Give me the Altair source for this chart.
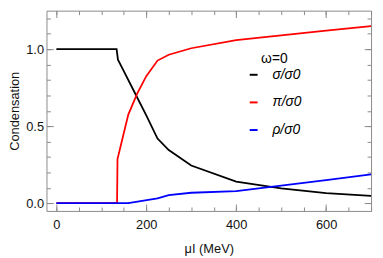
import altair as alt
import pandas as pd

# ---- data ----
series = ["σ/σ0", "π/σ0", "ρ/σ0"]
colors = ["#000000", "#ff0000", "#0000ff"]

sigma_mu = [0, 134, 137, 150, 175, 200, 225, 250, 300, 400, 500, 600, 700]
sigma_val = [1.0, 1.0, 0.932, 0.857, 0.714, 0.57, 0.42, 0.345, 0.245, 0.14, 0.097, 0.066, 0.047]

pi_mu = [0, 135, 136, 160, 180, 200, 225, 250, 300, 400, 500, 600, 700]
pi_val = [0, 0, 0.287, 0.575, 0.713, 0.825, 0.926, 0.964, 1.006, 1.058, 1.09, 1.12, 1.15]

rho_mu = [0, 160, 225, 250, 300, 400, 500, 600, 700]
rho_val = [0, 0, 0.032, 0.053, 0.068, 0.078, 0.114, 0.15, 0.187]

x_major = [0, 200, 400, 600]
x_minor = [0, 50, 100, 150, 200, 250, 300, 350, 400, 450, 500, 550, 600, 650, 700]
y_major = [0.0, 0.5, 1.0]
y_minor = [0.0, 0.1, 0.2, 0.3, 0.4, 0.5, 0.6, 0.7, 0.8, 0.9, 1.0, 1.1, 1.2]

x_domain = [-22, 700]
y_domain = [-0.05, 1.25]

W, H = 329, 203

rows = []
for name, xs, ys in [(series[0], sigma_mu, sigma_val),
                     (series[1], pi_mu, pi_val),
                     (series[2], rho_mu, rho_val)]:
    for i, (a, b) in enumerate(zip(xs, ys)):
        rows.append({"mu": a, "val": b, "series": name, "order": i})
df = pd.DataFrame(rows)

xscale = alt.Scale(domain=x_domain, nice=False, zero=False)
yscale = alt.Scale(domain=y_domain, nice=False, zero=False)

FONT = "Liberation Sans"
TICKC = "#8a8a8a"

lines = alt.Chart(df).mark_line(strokeWidth=1.8).encode(
    x=alt.X("mu:Q", scale=xscale,
            axis=alt.Axis(orient="bottom", values=x_major, ticks=False, tickSize=0,
                          domain=False, grid=False, labelPadding=8, labelFontSize=13,
                          labelFont=FONT, labelColor="#111", title="μI (MeV)",
                          titleFont=FONT, titleFontSize=13, titleFontWeight="normal",
                          titleColor="#111", titlePadding=11)),
    y=alt.Y("val:Q", scale=yscale,
            axis=alt.Axis(orient="left", values=y_major, format=".1f", ticks=False,
                          tickSize=0, domain=False, grid=False, labelPadding=3,
                          labelFontSize=13, labelFont=FONT, labelColor="#111",
                          title="Condensation", titleFont=FONT, titleFontSize=13,
                          titleFontWeight="normal", titleColor="#111", titlePadding=4)),
    color=alt.Color("series:N", scale=alt.Scale(domain=series, range=colors),
                    sort=series,
                    legend=alt.Legend(orient="none", legendX=203, legendY=42,
                                      title="ω=0", titleFont=FONT, titleFontSize=14,
                                      titleFontWeight="normal", titleAnchor="middle",
                                      titlePadding=2,
                                      labelFont=FONT, labelFontSize=14,
                                      labelFontStyle="italic", labelOffset=12,
                                      symbolType="stroke", symbolSize=64,
                                      symbolStrokeWidth=2, rowPadding=14,
                                      padding=0)),
    order="order:Q",
)


def xticks(orient, values, size):
    return alt.Chart(df).mark_point(opacity=0).encode(
        x=alt.X("mu:Q", scale=xscale,
                axis=alt.Axis(orient=orient, values=values, tickSize=size, offset=-H,
                              labels=False, domain=False, grid=False, title=None,
                              tickColor=TICKC, tickWidth=1)),
        y=alt.Y("val:Q", scale=yscale, axis=None),
    )


def yticks(orient, values, size):
    return alt.Chart(df).mark_point(opacity=0).encode(
        y=alt.Y("val:Q", scale=yscale,
                axis=alt.Axis(orient=orient, values=values, tickSize=size, offset=-W,
                              labels=False, domain=False, grid=False, title=None,
                              tickColor=TICKC, tickWidth=1)),
        x=alt.X("mu:Q", scale=xscale, axis=None),
    )


chart = alt.layer(
    lines,
    xticks("top", x_major, 7), xticks("top", x_minor, 4),
    xticks("bottom", x_major, 7), xticks("bottom", x_minor, 4),
    yticks("right", y_major, 7), yticks("right", y_minor, 4),
    yticks("left", y_major, 7), yticks("left", y_minor, 4),
).resolve_axis(x="independent", y="independent").properties(
    width=W, height=H, padding={"left": 0, "top": 0, "right": 0, "bottom": 0}
).configure_view(stroke=TICKC, strokeWidth=1)

chart.save("out.html", embed_options={"renderer": "svg", "actions": False})
